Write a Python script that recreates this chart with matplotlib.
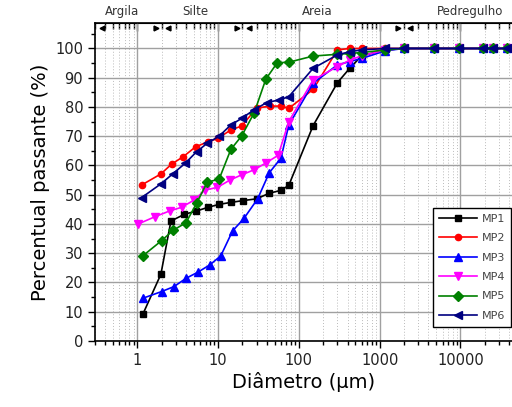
import numpy as np
import matplotlib
matplotlib.use("Agg")
import matplotlib.pyplot as plt
from matplotlib.ticker import LogLocator, NullFormatter, FixedLocator, MultipleLocator

# sieve sizes (um), shared by all samples
sieve_d = [75, 150, 300, 425, 600, 1180, 2000, 4750, 9500, 19000, 25000, 37500]

# sedimentation diameters (um) per sample
mp1_sed = [1.17, 1.96, 2.61, 3.82, 5.37, 7.5, 10.3, 14.6, 20.5, 30, 43, 60]
mp2_sed = [1.13, 1.96, 2.67, 3.71, 5.28, 7.56, 10.0, 14.3, 19.6, 30, 43.9, 60]
mp3_sed = [1.17, 2.0, 2.85, 4.0, 5.6, 7.9, 10.8, 15.1, 20.9, 30.9, 43, 60]
mp4_sed = [1.03, 1.66, 2.54, 3.54, 5.07, 6.9, 9.8, 14.0, 19.6, 27.8, 38.8, 55.6]
mp5_sed = [1.17, 2.0, 2.8, 4.0, 5.43, 7.35, 10.3, 14.4, 19.6, 28, 39, 54]
mp6_sed = [1.13, 1.96, 2.74, 3.9, 5.43, 7.35, 10.3, 14.3, 19.6, 27.8, 40, 57]

# percent passing (sedimentation points followed by sieve points)
mp1_p = [9.1, 22.8, 41.0, 43.3, 44.4, 45.7, 46.7, 47.4, 48.0, 48.6, 50.5, 51.5,
         53.2, 73.6, 88.3, 93.2, 97.5, 99.5, 100, 100, 100, 100, 100, 100]
mp2_p = [53.3, 57.1, 60.5, 63.0, 66.4, 68.1, 69.3, 72.1, 73.5, 79.6, 80.3, 80.3,
         79.5, 86.0, 99.5, 100, 100, 100, 100, 100, 100, 100, 100, 100]
mp3_p = [14.6, 16.9, 18.6, 21.4, 23.5, 26.0, 29.1, 37.6, 41.9, 48.6, 57.5, 62.5,
         73.8, 88.1, 94.4, 95.5, 96.6, 99.2, 100, 100, 100, 100, 100, 100]
mp4_p = [40.0, 42.5, 44.5, 45.7, 48.2, 51.6, 52.5, 55.0, 56.8, 58.5, 60.8, 63.5,
         75.0, 89.2, 93.8, 96.0, 97.5, 99.5, 100, 100, 100, 100, 100, 100]
mp5_p = [29.1, 34.3, 37.9, 40.4, 47.1, 54.3, 55.3, 65.5, 70.1, 78.0, 89.5, 95.1,
         95.3, 97.4, 98.0, 98.3, 98.6, 99.5, 100, 100, 100, 100, 100, 100]
mp6_p = [49.0, 53.7, 57.1, 60.7, 64.7, 67.6, 70.0, 73.8, 76.1, 79.0, 81.5, 82.4,
         83.5, 93.2, 97.8, 98.9, 99.5, 100, 100, 100, 100, 100, 100, 100]

labels = ["MP1", "MP2", "MP3", "MP4", "MP5", "MP6"]
colors = ["black", "#ff0000", "#0000ff", "#ff00ff", "#008000", "#000080"]
markers = ["s", "o", "^", "v", "D", "<"]
msizes = [5, 4.5, 6, 6, 5, 6]

# soil classes (top axis) and boundaries (um)
classes = ["Argila", "Silte", "Areia", "Pedregulho"]
class_x = [0.65, 5.2, 167, 13100]
bounds = [2, 20, 2000]

fig = plt.figure(figsize=(5.12, 4.07), dpi=100)
ax = fig.add_axes([95/512, 66/407, 417/512, 318/407])

series = [(mp1_sed, mp1_p), (mp2_sed, mp2_p), (mp3_sed, mp3_p),
          (mp4_sed, mp4_p), (mp5_sed, mp5_p), (mp6_sed, mp6_p)]
for (sed, p), lab, c, m, ms in zip(series, labels, colors, markers, msizes):
    ax.plot(sed + sieve_d, p, color=c, marker=m, markersize=ms, lw=1.2,
            label=lab, zorder=3)

ax.set_xscale("log")
ax.set_xlim(0.3, 43400)
ax.set_ylim(0, 108.7)
ax.yaxis.set_major_locator(MultipleLocator(10))
ax.yaxis.set_minor_locator(MultipleLocator(5))
ax.set_yticks(np.arange(0, 101, 10))
ax.xaxis.set_major_locator(FixedLocator([1, 10, 100, 1000, 10000]))
ax.xaxis.set_minor_locator(LogLocator(base=10, subs=np.arange(2, 10), numticks=20))
ax.xaxis.set_minor_formatter(NullFormatter())
ax.set_xticklabels(["1", "10", "100", "1000", "10000"])

ax.grid(True, which="major", color="#a0a0a0", lw=1.0, ls="-")
ax.grid(True, which="minor", axis="x", color="#bbbbbb", lw=0.7, ls=(0, (1, 2)))
ax.set_axisbelow(True)

ax.tick_params(which="both", direction="out", colors="black",
               labelsize=10.5, labelcolor="#222222", width=1)
ax.tick_params(which="major", length=5)
ax.tick_params(which="minor", length=3)
ax.spines["right"].set_visible(False)
for s in ["left", "bottom", "top"]:
    ax.spines[s].set_linewidth(1.2)

top = ax.secondary_xaxis("top")
top.xaxis.set_major_locator(FixedLocator([1, 10, 100, 1000, 10000]))
top.xaxis.set_minor_locator(LogLocator(base=10, subs=np.arange(2, 10), numticks=20))
top.xaxis.set_major_formatter(NullFormatter())
top.xaxis.set_minor_formatter(NullFormatter())
top.tick_params(which="both", direction="in", width=1)
top.tick_params(which="major", length=6)
top.tick_params(which="minor", length=4)

trans = ax.get_xaxis_transform()
for name, xc in zip(classes, class_x):
    ax.text(xc, 1.035, name, transform=trans, ha="center", va="center",
            fontsize=8.5, color="#333333")
ax.plot([0.37], [0.985], marker="<", color="black", ms=3.5, transform=trans, clip_on=False)
for b in bounds:
    ax.plot([b * 0.85], [0.985], marker=">", color="black", ms=3.5,
            transform=trans, clip_on=False)
    ax.plot([b * 1.2], [0.985], marker="<", color="black", ms=3.5,
            transform=trans, clip_on=False)

ax.set_xlabel("Diâmetro (µm)", fontsize=14, labelpad=3)
ax.set_ylabel("Percentual passante (%)", fontsize=14, labelpad=4)

leg = ax.legend(loc="lower right", bbox_to_anchor=(0.998, 0.044), borderaxespad=0,
                fontsize=8, handlelength=3.4, labelspacing=0.85,
                fancybox=False, framealpha=1, edgecolor="black", handletextpad=0.4,
                borderpad=0.55)
leg.get_frame().set_linewidth(1.0)
for t in leg.get_texts():
    t.set_color("#444444")

fig.savefig("out.png", dpi=100)
